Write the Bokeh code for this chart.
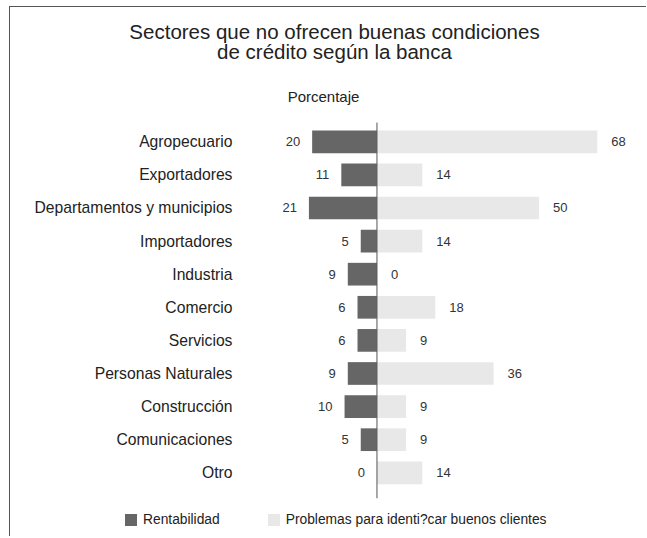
from bokeh.plotting import figure
from bokeh.models import Range1d, Legend, LegendItem, ColumnDataSource
from bokeh.embed import file_html
from bokeh.resources import INLINE
from bokeh.core.properties import value

categories = ["Agropecuario", "Exportadores", "Departamentos y municipios", "Importadores",
              "Industria", "Comercio", "Servicios", "Personas Naturales", "Construcción",
              "Comunicaciones", "Otro"]
rentabilidad = [20, 11, 21, 5, 9, 6, 6, 9, 10, 5, 0]
problemas = [68, 14, 50, 14, 0, 18, 9, 36, 9, 9, 14]
series_names = ["Rentabilidad", "Problemas para identi?car buenos clientes"]
title_lines = ["Sectores que no ofrecen buenas condiciones", "de crédito según la banca"]
subtitle = "Porcentaje"

FONT = "Liberation Sans"
TXT = "#222222"
n = len(categories)
idx = list(range(n))

# layout (data units: x in percentage points, y in rows)
ROW_TOP, ROW_BOTTOM = -0.58, n - 1 + 0.77
LABEL_X = -44.6
TITLE_X, TITLE_Y = -13.1, [-3.33, -2.73]
SUB_X, SUB_Y = -16.5, -1.37

src = ColumnDataSource(dict(
    y=idx,
    left=[-v for v in rentabilidad],
    right=problemas,
    zero=[0] * n,
    lv=[str(v) for v in rentabilidad],
    rv=[str(v) for v in problemas],
    cat=categories,
    labx=[LABEL_X] * n,
))

p = figure(width=637, height=530, output_backend="svg", toolbar_location=None,
           x_range=Range1d(-113.1, 83.5), y_range=Range1d(11.955, -4.057),
           min_border=0)
p.styles = {"margin-left": "9px", "margin-top": "6px",
            "border-left": "1px solid #555", "border-top": "1px solid #555"}
p.title.visible = False
p.xaxis.visible = False
p.yaxis.visible = False
p.xgrid.visible = False
p.ygrid.visible = False
p.outline_line_color = None

# titles
p.text(x=[TITLE_X] * 2, y=TITLE_Y, text=title_lines, text_align="center",
       text_baseline="middle", text_font=value(FONT), text_font_size="20.5px",
       text_color=TXT)
p.text(x=[SUB_X], y=[SUB_Y], text=[subtitle], text_align="center",
       text_baseline="middle", text_font=value(FONT), text_font_size="15px",
       text_color=TXT)

# bars
r1 = p.hbar(y="y", left="left", right="zero", height=0.686, fill_color="#666666",
            line_color=None, source=src)
r2 = p.hbar(y="y", left="zero", right="right", height=0.686, fill_color="#e8e8e8",
            line_color=None, source=src)
# central axis line
p.segment(x0=[0], y0=[ROW_TOP], x1=[0], y1=[ROW_BOTTOM], line_color="#555555",
          line_width=1)

# category labels
p.text(x="labx", y="y", text="cat", source=src, text_align="right",
       text_baseline="middle", text_font=value(FONT), text_font_size="15.7px",
       text_color=TXT)

# value labels
p.text(x="left", y="y", text="lv", source=src, text_align="right", text_baseline="middle",
       x_offset=-12, text_font=value(FONT), text_font_size="13px", text_color="#333333")
p.text(x="right", y="y", text="rv", source=src, text_align="left", text_baseline="middle",
       x_offset=14, text_font=value(FONT), text_font_size="13px", text_color="#333333")

legend = Legend(items=[LegendItem(label=series_names[0], renderers=[r1]),
                       LegendItem(label=series_names[1], renderers=[r2])],
                orientation="horizontal", location=(113, 10), spacing=46,
                glyph_width=15, glyph_height=15, label_standoff=5,
                border_line_color=None, background_fill_alpha=0, padding=0, margin=0,
                label_text_font=FONT, label_text_font_size="13.8px",
                label_text_color=TXT)
p.add_layout(legend)

open("out.html", "w").write(file_html(p, INLINE))
